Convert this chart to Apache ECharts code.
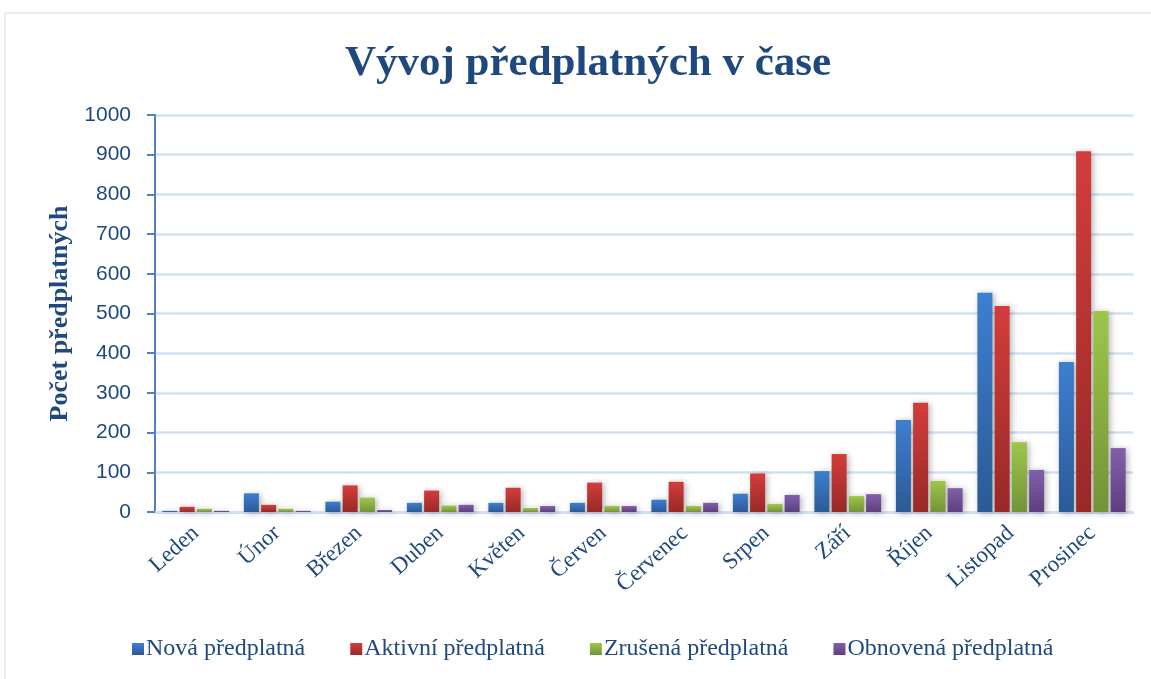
<!DOCTYPE html>
<html>
<head>
<meta charset="utf-8">
<script src="https://cdn.jsdelivr.net/npm/echarts@6/dist/echarts.min.js"></script>
<style>
  html, body { margin: 0; padding: 0; background: #fff; }
  #chart { width: 1151px; height: 679px; }
</style>
</head>
<body>
<div id="chart"></div>
<script>
// mesice a hodnoty
const months = ['Leden', 'Únor', 'Březen', 'Duben', 'Květen', 'Červen', 'Červenec', 'Srpen', 'Září', 'Říjen', 'Listopad', 'Prosinec'];
const nova = [3, 47, 26, 23, 23, 23, 31, 46, 103, 232, 552, 378];
const aktivni = [13, 18, 67, 54, 61, 74, 76, 97, 146, 275, 519, 909];
const zrusena = [8, 8, 36, 16, 10, 15, 15, 20, 40, 78, 176, 506];
const obnovena = [3, 3, 5, 18, 15, 15, 23, 43, 45, 60, 106, 161];
const yTicks = [0, 100, 200, 300, 400, 500, 600, 700, 800, 900, 1000];

const textBlue = '#1f497d';
const serif = '"Liberation Serif", "Times New Roman", serif';

function grad(top, bottom) {
  return new echarts.graphic.LinearGradient(0, 0, 0, 1, [
    { offset: 0, color: top },
    { offset: 1, color: bottom }
  ]);
}

function bar(name, data, top, bottom) {
  return {
    name: name,
    type: 'bar',
    data: data,
    barWidth: 15,
    barGap: '15%',
    itemStyle: {
      color: grad(top, bottom),
      shadowBlur: 6,
      shadowColor: 'rgba(0,0,0,0.3)',
      shadowOffsetX: 2,
      shadowOffsetY: 1
    }
  };
}

const chart = echarts.init(document.getElementById('chart'));
chart.setOption({
  animation: false,
  graphic: [{
    type: 'rect',
    shape: { x: 5, y: 13, width: 1170, height: 700 },
    style: { fill: 'none', stroke: '#c9d9ee', lineWidth: 1 },
    silent: true
  }],
  title: {
    text: 'Vývoj předplatných v čase',
    left: 340,
    top: 37,
    textStyle: { fontFamily: serif, fontWeight: 'bold', fontSize: 43, color: textBlue }
  },
  legend: {
    bottom: 13,
    left: 127,
    itemWidth: 12,
    itemHeight: 12,
    itemGap: 45,
    icon: 'rect',
    textStyle: { fontFamily: serif, fontSize: 24, color: textBlue, padding: [0, 0, 0, -3] },
    data: ['Nová předplatná', 'Aktivní předplatná', 'Zrušená předplatná', 'Obnovená předplatná']
  },
  grid: { left: 155, right: 18, top: 115, bottom: 167 },
  xAxis: {
    type: 'category',
    data: months,
    axisLine: { lineStyle: { color: '#d3e0f1', width: 3 } },
    axisTick: { show: false },
    axisLabel: {
      rotate: 42,
      margin: 18,
      fontFamily: serif,
      fontSize: 23,
      color: textBlue
    }
  },
  yAxis: {
    type: 'value',
    min: 0,
    max: 1000,
    interval: 100,
    name: 'Počet předplatných',
    nameLocation: 'middle',
    nameGap: 82,
    nameTextStyle: { fontFamily: serif, fontWeight: 'bold', fontSize: 26, color: textBlue },
    axisLine: { show: true, lineStyle: { color: '#4f81bd', width: 2 } },
    axisTick: { show: true, length: 8, lineStyle: { color: '#4f81bd', width: 2 } },
    axisLabel: {
      margin: 24,
      fontFamily: '"Liberation Sans", Arial, sans-serif',
      fontSize: 21,
      color: textBlue,
      formatter: v => yTicks.includes(v) ? String(v) : ''
    },
    splitLine: { lineStyle: { color: '#d3e0f1', width: 2.5 } }
  },
  series: [
    bar('Nová předplatná', nova, '#3d7fd2', '#2b5a96'),
    bar('Aktivní předplatná', aktivni, '#d33d3b', '#982927'),
    bar('Zrušená předplatná', zrusena, '#9ec64a', '#739337'),
    bar('Obnovená předplatná', obnovena, '#8160ab', '#5d3f7e')
  ]
});
</script>
</body>
</html>
